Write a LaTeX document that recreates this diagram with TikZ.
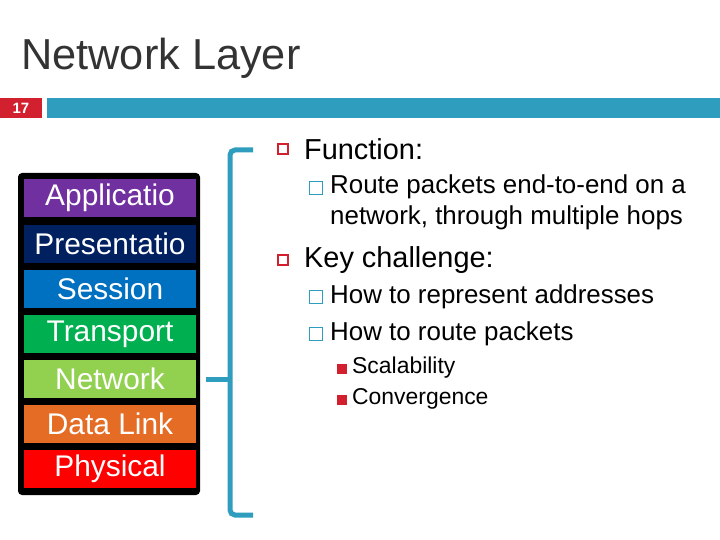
\documentclass[tikz,border=0pt]{standalone}
\usepackage{fontspec}
\setmainfont{Liberation Sans}
\definecolor{teal1}{HTML}{2E9DBE}
\definecolor{red1}{HTML}{D3202E}
\definecolor{c1}{HTML}{7030A0}
\definecolor{c2}{HTML}{002060}
\definecolor{c3}{HTML}{0070C0}
\definecolor{c4}{HTML}{00B050}
\definecolor{c5}{HTML}{92D050}
\definecolor{c6}{HTML}{E46C25}
\definecolor{c7}{HTML}{FF0000}
\begin{document}
\begin{tikzpicture}[x=1bp,y=-1bp,
 layer/.style={minimum width=171bp,minimum height=38bp,inner sep=0pt,text=white,font=\fontsize{30}{32}\selectfont},
 lone/.style={anchor=west,inner sep=0pt,font=\fontsize{29}{30}\selectfont},
 ltwo/.style={anchor=west,inner sep=0pt,font=\fontsize{26}{31}\selectfont,align=left},
 lthree/.style={anchor=west,inner sep=0pt,font=\fontsize{23}{24}\selectfont},
 bred/.style={draw=red1,line width=1.2bp,minimum size=10bp,inner sep=0pt},
 bteal/.style={draw=teal1,line width=1bp,minimum size=13bp,inner sep=0pt},
 bfill/.style={fill=red1,minimum size=10bp,inner sep=0pt}]
\useasboundingbox (0,0) rectangle (720,540);
\fill[white] (0,0) rectangle (720,540);
\node[anchor=west,inner sep=0pt,font=\fontsize{43.5}{46}\selectfont,text=black!80] (title) at (21,58) {Network Layer};
\fill[red1] (0,98) rectangle (42,118);
\node[text=white,font=\bfseries\fontsize{15}{16}\selectfont,inner sep=0pt] (num) at (21,108) {17};
\fill[teal1] (47,98) rectangle (720,118);
\fill[black,rounded corners=4bp] (18,173) rectangle (200,495);
\node[layer,fill=c1] (app) at (110,198) {Applicatio};
\node[layer,fill=c2] (pres) at (110,244) {Presentatio};
\node[layer,fill=c3] (sess) at (110,289) {Session};
\node[layer,fill=c4] (tran) at (110,334) {Transport};
\node[layer,fill=c5] (net) at (110,379) {Network};
\node[layer,fill=c6] (dl) at (110,424) {Data Link};
\node[layer,fill=c7] (phy) at (110,469) {Physical};
\coordinate (bt) at (253,150);
\coordinate (bb) at (253,515);
\draw[teal1,line width=5bp,rounded corners=5bp] (bt) -- (230,150) -- (230,515) -- (bb);
\draw[teal1,line width=5bp] ([xshift=10bp]net.east) -- (230,379);
\node[bred] (s1) at (283,149) {};
\node[lone] (f) at (304,149) {Function:};
\node[bteal] (s2) at (316,188) {};
\node[ltwo] (r) at (330,202) {Route packets end-to-end on a\\network, through multiple hops};
\node[bred] (s3) at (283,260) {};
\node[lone] (k) at (304,260) {Key challenge:};
\node[bteal] (s4) at (316,297) {};
\node[ltwo] (h1) at (330,297) {How to represent addresses};
\node[bteal] (s5) at (316,334) {};
\node[ltwo] (h2) at (330,334) {How to route packets};
\node[bfill] (s6) at (342,369) {};
\node[lthree] (sc) at (352,368) {Scalability};
\node[bfill] (s7) at (342,400) {};
\node[lthree] (cv) at (352,399) {Convergence};
\end{tikzpicture}
\end{document}
